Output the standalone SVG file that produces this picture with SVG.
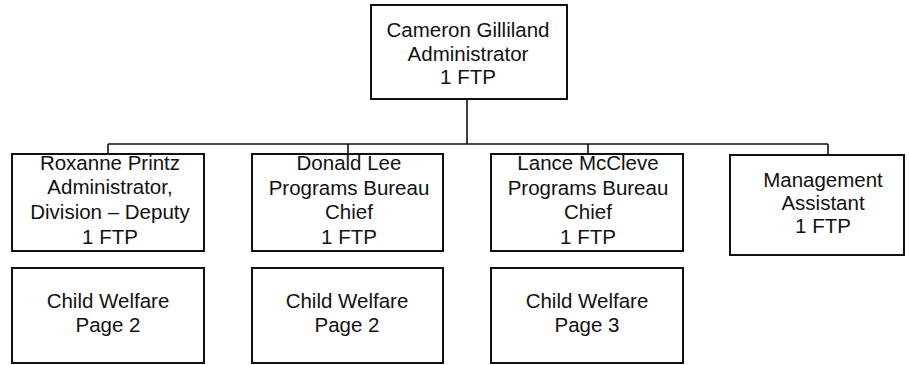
<svg xmlns="http://www.w3.org/2000/svg" width="909" height="365" viewBox="0 0 909 365">
  <style>
    .box { fill: #ffffff; stroke: #111111; stroke-width: 2; }
    .lbl { font-family: "Liberation Sans", Arial, sans-serif; font-size: 20.5px; fill: #111111; text-anchor: middle; }
    .wire { fill: none; stroke: #111111; stroke-width: 1.6; }
  </style>
  <rect width="909" height="365" fill="#ffffff"/>

  <!-- reporting lines -->
  <g id="connectors">
    <path class="wire" d="M467 99 V144"/>
    <path class="wire" d="M108 144 H828"/>
    <path class="wire" d="M108 144 V154"/>
    <path class="wire" d="M348 144 V154"/>
    <path class="wire" d="M588 144 V154"/>
    <path class="wire" d="M828 144 V155"/>
  </g>

  <g id="administrator">
    <rect class="box" x="371" y="5" width="196" height="94"/>
    <text class="lbl" x="468" y="37">Cameron Gilliland</text>
    <text class="lbl" x="468" y="60.5">Administrator</text>
    <text class="lbl" x="468" y="84">1 FTP</text>
  </g>

  <g id="deputy">
    <rect class="box" x="12" y="154" width="192" height="97"/>
    <text class="lbl" x="110" y="170">Roxanne Printz</text>
    <text class="lbl" x="110" y="194">Administrator,</text>
    <text class="lbl" x="110" y="218.5">Division – Deputy</text>
    <text class="lbl" x="110" y="244">1 FTP</text>
  </g>

  <g id="bureau-chief-lee">
    <rect class="box" x="252" y="154" width="191" height="97"/>
    <text class="lbl" x="349" y="170">Donald Lee</text>
    <text class="lbl" x="349" y="194.5">Programs Bureau</text>
    <text class="lbl" x="349" y="219">Chief</text>
    <text class="lbl" x="349" y="244">1 FTP</text>
  </g>

  <g id="bureau-chief-mccleve">
    <rect class="box" x="491" y="154" width="192" height="97"/>
    <text class="lbl" x="588" y="170">Lance McCleve</text>
    <text class="lbl" x="588" y="194.5">Programs Bureau</text>
    <text class="lbl" x="588" y="219">Chief</text>
    <text class="lbl" x="588" y="244">1 FTP</text>
  </g>

  <g id="management-assistant">
    <rect class="box" x="730" y="155" width="174" height="100"/>
    <text class="lbl" x="823" y="187">Management</text>
    <text class="lbl" x="823" y="210">Assistant</text>
    <text class="lbl" x="823" y="233">1 FTP</text>
  </g>

  <g id="child-welfare-1">
    <rect class="box" x="12" y="268" width="192" height="95"/>
    <text class="lbl" x="108" y="308">Child Welfare</text>
    <text class="lbl" x="108" y="332">Page 2</text>
  </g>

  <g id="child-welfare-2">
    <rect class="box" x="252" y="268" width="191" height="95"/>
    <text class="lbl" x="347" y="308">Child Welfare</text>
    <text class="lbl" x="347" y="332">Page 2</text>
  </g>

  <g id="child-welfare-3">
    <rect class="box" x="491" y="268" width="192" height="95"/>
    <text class="lbl" x="587" y="308">Child Welfare</text>
    <text class="lbl" x="587" y="332">Page 3</text>
  </g>
</svg>
